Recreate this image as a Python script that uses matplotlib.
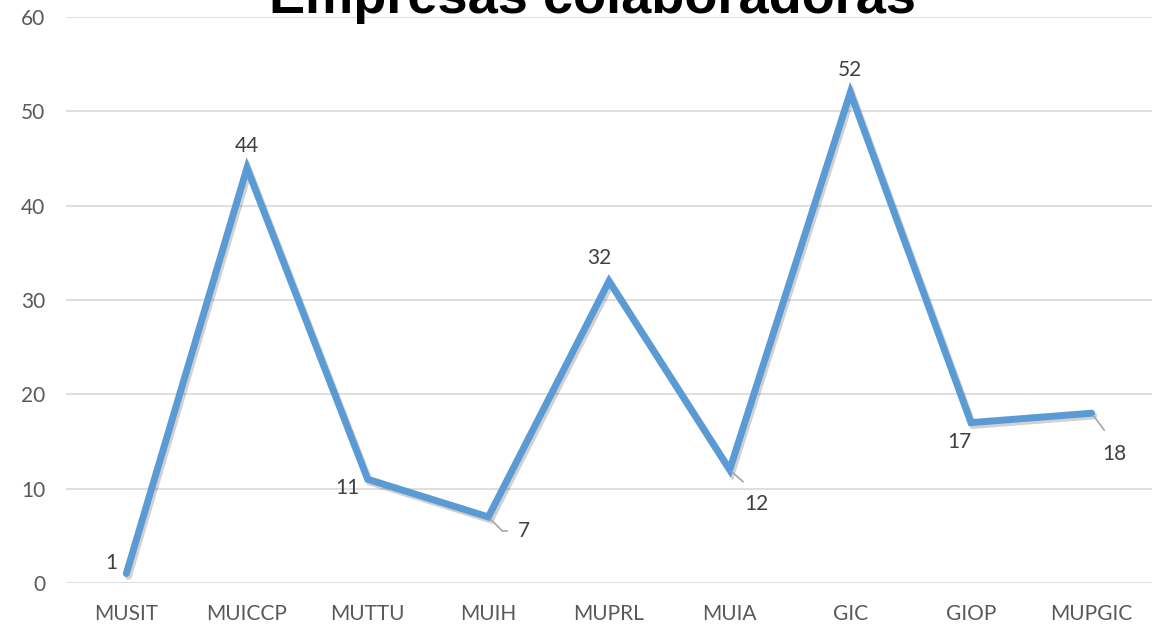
import matplotlib.pyplot as plt
import matplotlib.patheffects as pe

plt.rcParams['font.family'] = ['Lato', 'DejaVu Sans']

categories = ["MUSIT", "MUICCP", "MUTTU", "MUIH", "MUPRL", "MUIA", "GIC", "GIOP", "MUPGIC"]
values = [1, 44, 11, 7, 32, 12, 52, 17, 18]
yticks = [0, 10, 20, 30, 40, 50, 60]

# label offsets in pixels (dx, dy) and whether a leader line is drawn
label_offsets = [(-15, 11), (0, 22), (-20, -9), (36, -14), (-10, 23),
                 (27, -34), (0, 22), (-12, -19), (23, -41)]
leaders = [False, False, False, True, False, True, False, False, True]

fig = plt.figure(figsize=(11.52, 6.26), dpi=100)
ax = fig.add_axes([66 / 1152, 1 - 583 / 626, 1 - 66 / 1152, (583 - 17) / 626])

x = list(range(len(categories)))
ax.plot(x, values, color="#5B9BD5", linewidth=5, solid_joinstyle="miter",
        solid_capstyle="round", zorder=3,
        path_effects=[pe.SimpleLineShadow(offset=(1.5, -2), shadow_color="#000000", alpha=0.18),
                      pe.Normal()])

for i, v in enumerate(values):
    dx, dy = label_offsets[i]
    if leaders[i]:
        if i == 3:
            arrow = dict(arrowstyle="-", color="#a6a6a6", lw=1.2,
                         connectionstyle="angle,angleA=0,angleB=-45,rad=0",
                         relpos=(0, 0.5), shrinkA=6, shrinkB=2)
        else:
            arrow = dict(arrowstyle="-", color="#a6a6a6", lw=1.2,
                         relpos=(0.5, 1), shrinkA=10, shrinkB=2)
    else:
        arrow = None
    ax.annotate(str(v), (i, v), xytext=(dx, dy), textcoords="offset pixels",
                ha="center", va="center", fontsize=15, color="#404040",
                arrowprops=arrow, zorder=4)

ax.set_xlim(-0.5, len(categories) - 0.5)
ax.set_ylim(0, 60)
ax.set_yticks(yticks)
ax.set_xticks(x)
ax.set_xticklabels(categories)
ax.grid(axis="y", color="#d9d9d9", linewidth=1.2)
ax.set_axisbelow(True)
for s in ax.spines.values():
    s.set_visible(False)
ax.tick_params(axis="both", length=0, colors="#595959", labelsize=15)
ax.tick_params(axis="x", pad=15)
ax.tick_params(axis="y", pad=15)

fig.text(0.514, 1 - 13 / 626, "Empresas colaboradoras", ha="center", va="baseline",
         fontsize=39, fontweight="bold", family=["Liberation Sans", "DejaVu Sans"], color="#000000")

fig.savefig("out.png", dpi=100)
